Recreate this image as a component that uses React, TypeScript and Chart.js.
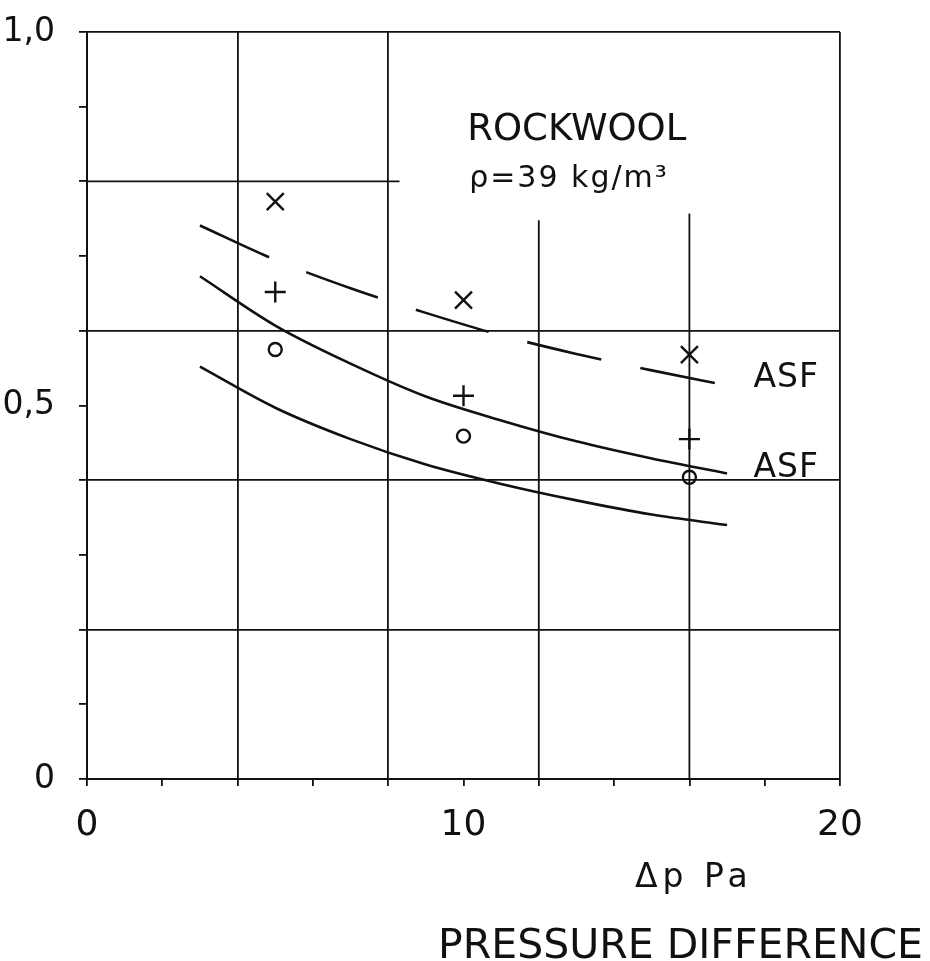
import React, { useEffect, useRef } from 'react';
import { Chart, registerables } from 'chart.js';

Chart.register(...registerables);

// ---- data ----
const pressure = [5, 10, 16];
const crossSeries = [0.773, 0.641, 0.568]; // ×
const plusSeries = [0.652, 0.513, 0.455]; // +
const circleSeries = [0.575, 0.459, 0.404]; // o

const curveX = [3, 5, 7, 9, 11, 13, 15, 17];
const dashedASF = [0.741, 0.695, 0.657, 0.624, 0.594, 0.569, 0.547, 0.527];
const solidASF = [0.673, 0.607, 0.556, 0.512, 0.48, 0.452, 0.429, 0.409];
const solidLower = [0.552, 0.497, 0.455, 0.421, 0.395, 0.373, 0.354, 0.34];

// ---- axes ----
const xLabeled = [0, 10, 20];
const yLabelValues = [0, 5, 10]; // tenths
const yLabelTexts = ['0', '0,5', '1,0'];
const fullXGrid = [4, 8, 20];
const fullYGrid = [2, 4, 6, 10]; // tenths
const partialXGrid = [12, 16];
const partialXGridTop = [0.748, 0.757];
const partialYGrid = [0.8];
const partialYGridEnd = [8.3];

// ---- annotations ----
const noteTexts = ['ROCKWOOL', 'ρ=39 kg/m³', 'ASF', 'ASF'];
const noteX = [10.1, 10.15, 17.7, 17.7];
const noteY = [0.855, 0.793, 0.525, 0.404];
const xTitle1 = 'Δp Pa';
const xTitle2 = 'PRESSURE DIFFERENCE';

const INK = '#111111';
const FONT = '"DejaVu Sans", sans-serif';

const decorPlugin = {
  id: 'decor',
  beforeDatasetsDraw(chart: any) {
    const { ctx } = chart;
    const x = chart.scales.x;
    const y = chart.scales.y;
    ctx.save();
    ctx.strokeStyle = INK;
    ctx.lineWidth = 1.8;
    ctx.beginPath();
    partialXGrid.forEach((v, i) => {
      const px = x.getPixelForValue(v);
      ctx.moveTo(px, y.getPixelForValue(0));
      ctx.lineTo(px, y.getPixelForValue(partialXGridTop[i]));
    });
    partialYGrid.forEach((v, i) => {
      const py = y.getPixelForValue(v);
      ctx.moveTo(x.getPixelForValue(0), py);
      ctx.lineTo(x.getPixelForValue(partialYGridEnd[i]), py);
    });
    ctx.stroke();
    ctx.restore();
  },
  afterDraw(chart: any) {
    const { ctx, chartArea } = chart;
    const x = chart.scales.x;
    const y = chart.scales.y;
    ctx.save();
    ctx.fillStyle = INK;
    ctx.textBaseline = 'alphabetic';
    ctx.textAlign = 'left';
    const sizes = [37, 30, 33, 33];
    const spacing = ['0px', '2px', '1px', '1px'];
    noteTexts.forEach((t, i) => {
      ctx.font = `${sizes[i]}px ${FONT}`;
      (ctx as any).letterSpacing = spacing[i];
      ctx.fillText(t, x.getPixelForValue(noteX[i]), y.getPixelForValue(noteY[i]));
    });
    ctx.textAlign = 'left';
    ctx.font = `33px ${FONT}`;
    (ctx as any).letterSpacing = '5px';
    ctx.fillText(xTitle1, chartArea.right - 205, chartArea.bottom + 108);
    ctx.font = `41px ${FONT}`;
    (ctx as any).letterSpacing = '0px';
    ctx.textAlign = 'right';
    ctx.fillText(xTitle2, chartArea.right + 83, chartArea.bottom + 179);
    ctx.restore();
  },
};

function pts(xs: number[], ys: number[]) {
  return xs.map((v, i) => ({ x: v, y: ys[i] }));
}

export default function App() {
  const ref = useRef<HTMLCanvasElement>(null);

  useEffect(() => {
    const canvas = ref.current;
    if (!canvas) return;
    const lineBase = {
      type: 'line' as const,
      borderColor: INK,
      borderWidth: 2.6,
      pointRadius: 0,
      fill: false,
      cubicInterpolationMode: 'monotone' as const,
    };
    const markerBase = {
      type: 'scatter' as const,
      borderColor: INK,
      backgroundColor: 'rgba(0,0,0,0)',
      pointBorderWidth: 2.4,
      showLine: false,
    };
    const chart = new Chart(canvas, {
      type: 'scatter',
      data: {
        datasets: [
          { ...lineBase, label: 'ASF dashed', data: pts(curveX, dashedASF), borderDash: [76, 40] },
          { ...lineBase, label: 'ASF', data: pts(curveX, solidASF) },
          { ...lineBase, label: 'lower', data: pts(curveX, solidLower) },
          { ...markerBase, label: '×', data: pts(pressure, crossSeries), pointStyle: 'crossRot', pointRadius: 12 },
          { ...markerBase, label: '+', data: pts(pressure, plusSeries), pointStyle: 'cross', pointRadius: 10.5 },
          { ...markerBase, label: 'o', data: pts(pressure, circleSeries), pointStyle: 'circle', pointRadius: 6.5 },
        ] as any,
      },
      options: {
        responsive: false,
        animation: false,
        events: [],
        layout: { padding: { top: 32, right: 90, left: 0, bottom: 0 } },
        plugins: { legend: { display: false }, tooltip: { enabled: false } },
        scales: {
          x: {
            type: 'linear',
            min: 0,
            max: 20,
            afterFit: (s: any) => {
              s.height = 961 - 779;
              s.paddingLeft = 0;
              s.paddingRight = 0;
            },
            border: { display: true, color: INK, width: 2 },
            grid: {
              color: (c: any) =>
                c.tick && fullXGrid.includes(Math.round(c.tick.value)) ? INK : 'rgba(0,0,0,0)',
              lineWidth: 1.8,
              drawTicks: true,
              tickLength: 7,
              tickColor: INK,
              tickWidth: 1.8,
            },
            ticks: {
              stepSize: 2,
              autoSkip: false,
              maxRotation: 0,
              padding: 18,
              color: INK,
              font: { family: FONT, size: 36 },
              callback: (v: any) => (xLabeled.includes(Math.round(v)) ? String(Math.round(v)) : ''),
            },
          },
          y: {
            type: 'linear',
            min: 0,
            max: 1,
            afterFit: (s: any) => {
              s.width = 87;
              s.paddingTop = 0;
              s.paddingBottom = 0;
            },
            border: { display: true, color: INK, width: 2 },
            grid: {
              color: (c: any) =>
                c.tick && fullYGrid.includes(Math.round(c.tick.value * 10)) ? INK : 'rgba(0,0,0,0)',
              lineWidth: 1.8,
              drawTicks: true,
              tickLength: 8,
              tickColor: INK,
              tickWidth: 1.8,
            },
            ticks: {
              stepSize: 0.1,
              autoSkip: false,
              padding: 24,
              color: INK,
              font: { family: FONT, size: 33 },
              callback: (v: any) => {
                const k = yLabelValues.indexOf(Math.round(v * 10));
                return k >= 0 ? yLabelTexts[k] : '';
              },
            },
          },
        },
      } as any,
      plugins: [decorPlugin],
    });
    return () => chart.destroy();
  }, []);

  return (
    <div style={{ position: 'absolute', left: 0, top: 0, width: 930, height: 961, background: '#ffffff' }}>
      <canvas ref={ref} width={930} height={961} style={{ display: 'block', width: 930, height: 961 }} />
    </div>
  );
}
